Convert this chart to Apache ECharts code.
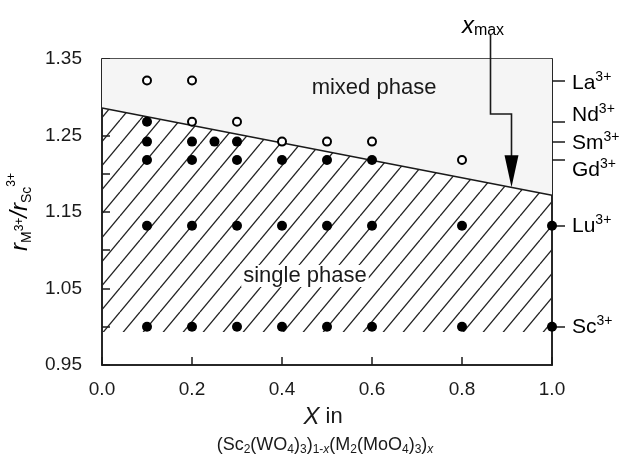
<!DOCTYPE html>
<html>
<head>
<meta charset="utf-8">
<script src="https://cdn.jsdelivr.net/npm/echarts@6/dist/echarts.min.js"></script>
<style>
  html, body { margin: 0; padding: 0; background: #fff; }
  #chart { width: 626px; height: 457px; }
</style>
</head>
<body>
<div id="chart"></div>
<script>
// tick labels
const yLabels = [0.95, 1.05, 1.15, 1.25, 1.35]
// ionic radius ratio r(M3+)/r(Sc3+) for each ion
const ionNames = ['La', 'Nd', 'Sm', 'Gd', 'Lu', 'Sc']
const ionRatios = [1.322, 1.268, 1.242, 1.218, 1.132, 1.0]
// x where a single phase was found (filled circles), per ion
const singleX = [
  [],
  [0.1],
  [0.1, 0.2, 0.25, 0.3],
  [0.1, 0.2, 0.3, 0.4, 0.5, 0.6],
  [0.1, 0.2, 0.3, 0.4, 0.5, 0.6, 0.8, 1.0],
  [0.1, 0.2, 0.3, 0.4, 0.5, 0.6, 0.8, 1.0]
]
// x where a mixed phase was found (open circles), per ion
const mixedX = [
  [0.1, 0.2],
  [0.2, 0.3],
  [0.4, 0.5, 0.6],
  [0.8],
  [],
  []
]
// phase boundary
const boundaryX = [0, 1]
const boundaryY = [1.286, 1.172]
const hatchBottom = 0.993
const xMax = 0.91

const font = '"Liberation Sans", Arial, Helvetica, sans-serif'
const ink = '#1a1a1a'

function points (rows) {
  const out = []
  rows.forEach(function (xs, i) {
    xs.forEach(function (x) { out.push([x, ionRatios[i]]) })
  })
  return out
}

// diagonal hatch tile
function hatchTile () {
  const w = 20
  const h = 24
  const c = document.createElement('canvas')
  c.width = w
  c.height = h
  const ctx = c.getContext('2d')
  ctx.strokeStyle = '#222'
  ctx.lineWidth = 1.3
  for (let k = -1; k <= 1; k++) {
    ctx.beginPath()
    ctx.moveTo(k * w, h)
    ctx.lineTo(k * w + w, 0)
    ctx.stroke()
  }
  return c
}

const boundary = boundaryX.map(function (x, i) { return [x, boundaryY[i]] })

const chart = echarts.init(document.getElementById('chart'))

const option = {
  animation: false,
  backgroundColor: '#fff',
  textStyle: { fontFamily: font, color: ink },
  grid: {
    left: 102,
    right: 74,
    top: 59,
    bottom: 92,
    show: true,
    borderColor: ink,
    borderWidth: 1.5,
    backgroundColor: 'transparent'
  },
  xAxis: {
    type: 'value',
    min: 0,
    max: 1,
    interval: 0.2,
    axisLine: { show: true, lineStyle: { color: ink, width: 1.5 } },
    axisTick: { inside: true, length: 8, lineStyle: { color: ink, width: 1.5 } },
    axisLabel: {
      fontSize: 19,
      color: ink,
      margin: 15,
      formatter: function (v) { return v.toFixed(1) }
    },
    splitLine: { show: false }
  },
  yAxis: [
    {
      type: 'value',
      min: 0.95,
      max: 1.35,
      interval: 0.05,
      axisLine: { show: true, lineStyle: { color: ink, width: 1.5 } },
      axisTick: { inside: true, length: 8, lineStyle: { color: ink, width: 1.5 } },
      axisLabel: {
        fontSize: 19,
        color: ink,
        margin: 20,
        customValues: yLabels,
        formatter: function (v) { return v.toFixed(2) }
      },
      splitLine: { show: false }
    },
    {
      type: 'value',
      position: 'right',
      min: 0.95,
      max: 1.35,
      axisLine: { show: true, lineStyle: { color: ink, width: 1.5 } },
      axisTick: { inside: false, length: 13, customValues: ionRatios, lineStyle: { color: ink, width: 1.5 } },
      axisLabel: { show: false },
      splitLine: { show: false }
    }
  ],
  series: [
    {
      // mixed phase region
      type: 'line',
      z: 1,
      data: boundary,
      symbol: 'none',
      silent: true,
      lineStyle: { width: 0 },
      areaStyle: { origin: 'end', color: '#f5f5f5', opacity: 1 }
    },
    {
      // single phase region
      type: 'line',
      z: 1,
      data: boundary,
      symbol: 'none',
      silent: true,
      lineStyle: { color: ink, width: 1.6 },
      areaStyle: { origin: hatchBottom, color: { image: hatchTile(), repeat: 'repeat' }, opacity: 1 }
    },
    {
      type: 'scatter',
      z: 5,
      data: points(singleX),
      symbol: 'circle',
      symbolSize: 10,
      clip: false,
      itemStyle: { color: '#000', opacity: 1 }
    },
    {
      type: 'scatter',
      z: 5,
      data: points(mixedX),
      symbol: 'emptyCircle',
      symbolSize: 8,
      clip: false,
      itemStyle: { color: '#000', borderWidth: 1.5, opacity: 1 }
    }
  ]
}
chart.setOption(option)

// annotations that depend on the axes
const supRich = {
  m: { fontSize: 21, lineHeight: 26, fontFamily: font, color: ink },
  p: { fontSize: 14, lineHeight: 14, verticalAlign: 'top', fontFamily: font, color: ink }
}
const labelNudge = [3, -7, 2, 10, 0, 0]
const ionTexts = ionNames.map(function (name, i) {
  const y = chart.convertToPixel({ yAxisIndex: 1 }, ionRatios[i])
  return {
    type: 'text',
    x: 572,
    y: y + labelNudge[i],
    style: {
      text: '{m|' + name + '}{p|3+}',
      rich: supRich,
      align: 'left',
      verticalAlign: 'middle'
    }
  }
})

const slope = (boundaryY[1] - boundaryY[0]) / (boundaryX[1] - boundaryX[0])
const tip = chart.convertToPixel({ xAxisIndex: 0, yAxisIndex: 0 }, [xMax, boundaryY[0] + slope * (xMax - boundaryX[0])])
const tx = tip[0]
const ty = tip[1]

chart.setOption({
  graphic: ionTexts.concat([
    {
      type: 'text',
      x: 305,
      y: 276,
      z: 10,
      style: {
        text: 'single phase',
        fontSize: 22,
        fontFamily: font,
        fill: ink,
        align: 'center',
        verticalAlign: 'middle',
        backgroundColor: '#fff',
        padding: [0, 2]
      }
    },
    {
      type: 'text',
      x: 374,
      y: 88,
      z: 10,
      style: {
        text: 'mixed phase',
        fontSize: 22,
        fontFamily: font,
        fill: ink,
        align: 'center',
        verticalAlign: 'middle'
      }
    },
    {
      type: 'text',
      x: 483,
      y: 26,
      style: {
        text: '{i|x}{s|max}',
        align: 'center',
        verticalAlign: 'middle',
        rich: {
          i: { fontSize: 24, fontStyle: 'italic', lineHeight: 26, fontFamily: font, color: ink },
          s: { fontSize: 16, lineHeight: 16, verticalAlign: 'bottom', fontFamily: font, color: ink }
        }
      }
    },
    {
      type: 'polyline',
      z: 10,
      shape: { points: [[tx - 21, 34], [tx - 21, 114], [tx, 114], [tx, ty - 30]] },
      style: { stroke: ink, lineWidth: 1.6, fill: null }
    },
    {
      type: 'polygon',
      z: 10,
      shape: { points: [[tx - 7, ty - 32], [tx + 7, ty - 32], [tx, ty]] },
      style: { fill: '#000' }
    },
    {
      type: 'text',
      x: 323,
      y: 417,
      style: {
        text: '{i|X} in',
        fontSize: 22,
        fontFamily: font,
        fill: ink,
        align: 'center',
        verticalAlign: 'middle',
        rich: {
          i: { fontSize: 24, fontStyle: 'italic', fontFamily: font, color: ink }
        }
      }
    },
    {
      type: 'text',
      x: 325,
      y: 445,
      style: {
        text: '(Sc{s|2}(WO{s|4}){s|3}){s|1-}{si|x}(M{s|2}(MoO{s|4}){s|3}){si|x}',
        fontSize: 18,
        fontFamily: font,
        fill: ink,
        align: 'center',
        verticalAlign: 'middle',
        lineHeight: 22,
        rich: {
          s: { fontSize: 12, lineHeight: 12, verticalAlign: 'bottom', fontFamily: font, color: ink },
          si: { fontSize: 12, lineHeight: 12, verticalAlign: 'bottom', fontStyle: 'italic', fontFamily: font, color: ink }
        }
      }
    },
    {
      type: 'text',
      x: 20,
      y: 212,
      rotation: Math.PI / 2,
      style: {
        text: '{r|r}{sb|M}{sp|3+}{r|/r}{sb|Sc}{sq|3+}',
        align: 'center',
        verticalAlign: 'middle',
        rich: {
          r: { fontSize: 24, lineHeight: 28, fontStyle: 'italic', fontFamily: font, color: ink },
          sb: { fontSize: 14, lineHeight: 14, verticalAlign: 'bottom', fontFamily: font, color: ink },
          sp: { fontSize: 12, lineHeight: 12, verticalAlign: 'middle', fontFamily: font, color: ink },
          sq: { fontSize: 12, lineHeight: 18, verticalAlign: 'top', fontFamily: font, color: ink }
        }
      }
    }
  ])
})

window.addEventListener('resize', function () { chart.resize() })
</script>
</body>
</html>
